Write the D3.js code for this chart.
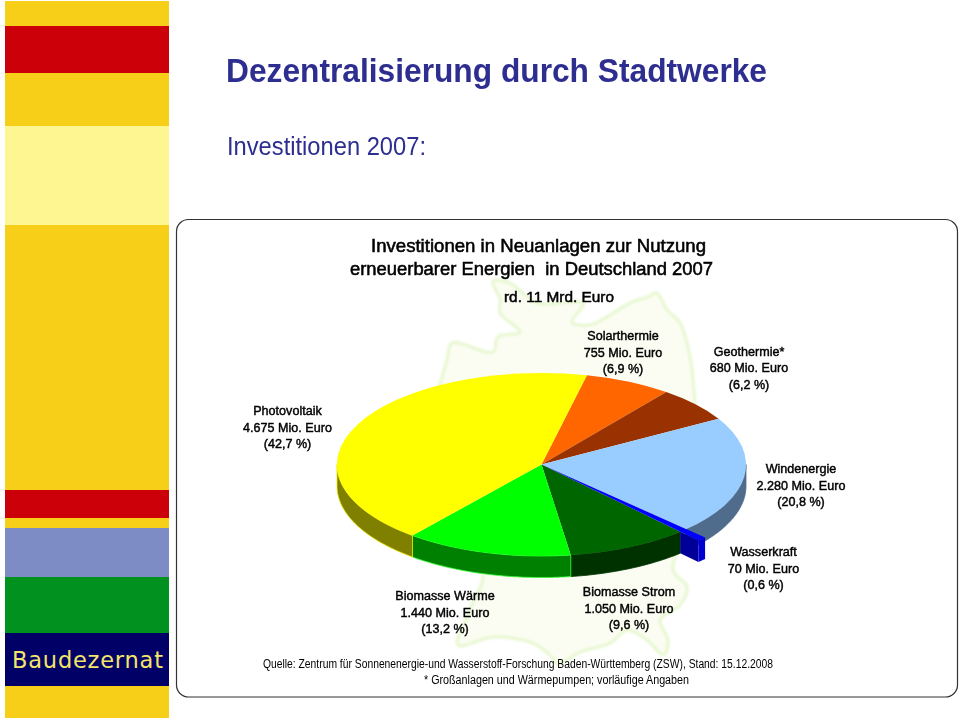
<!DOCTYPE html>
<html><head><meta charset="utf-8">
<script src="https://cdn.jsdelivr.net/npm/d3@7"></script>
<style>html,body{margin:0;padding:0;background:#fff}svg{display:block}text{font-family:"Liberation Sans",Arial,sans-serif}</style>
</head><body><div id="c"></div>
<script>
// ---- data ----
const categories = ["Solarthermie","Geothermie*","Windenergie","Wasserkraft","Biomasse Strom","Biomasse Wärme","Photovoltaik"];
const valuesMio  = [755,680,2280,70,1050,1440,4675];
const percentLabels = ["6,9","6,2","20,8","0,6","9,6","13,2","42,7"];
const topColors  = ["#ff6600","#993300","#99ccff","#0000ff","#006600","#00ff00","#ffff00"];
const wallColors = ["#803300","#4d1900","#4f6c8c","#000099","#003300","#008000","#808000"];
const edgeColors = ["#ff6600","#993300","#4f6c8c","#0000ff","#003300","#33ff33","#e8e800"];
const labelAnchors = [[623,340],[749,355.5],[801,473],[763.5,556],[629,596],[445,600],[287.5,415]];
const germanyOutline = [[23.3,.3],[29.6,.8],[39.6,6],[56.7,6],[52.6,10.9],[59.3,11.7],[65.6,9.6],[74,6],[80.7,4.4],[84,3.4],[87.8,7.8],[92.6,11.2],[96.3,20],[98,31],[100,57],[90,75.3],[95.2,79.7],[92.6,84.4],[85.2,88.3],[88.1,93.5],[86.7,97.4],[80.4,93.5],[73,90.9],[66.7,94.3],[55.6,96.6],[47.4,99.7],[44.4,97.4],[38.1,94.3],[23.3,92.7],[10.4,94.8],[14.8,85.7],[19.6,76.6],[14.8,72.7],[3.7,62.3],[0,36],[3.7,27.3],[6.3,20.8],[8.1,16.4],[23.3,18.7],[25.2,14.8],[33.3,13.5],[26,8.6],[26,5]];
const sidebarBands = [["#f7ce18",1],["#cc0009",26],["#f7ce18",73],["#fdf691",126],["#f7ce18",225],["#cc0009",490],["#f7ce18",518],["#7d8cc4",528],["#00911f",577],["#000066",633],["#f7ce18",686],[null,718]];
const chartTitleLines = ["Investitionen in Neuanlagen zur Nutzung","erneuerbarer Energien  in Deutschland 2007"];

const W=959,H=720;
const svg=d3.select("#c").append("svg").attr("width",W).attr("height",H);
const defs=svg.append("defs");
defs.append("filter").attr("id","soft").append("feGaussianBlur").attr("stdDeviation",.35);
defs.append("filter").attr("id","softer").append("feGaussianBlur").attr("stdDeviation",.9);

// sidebar
svg.append("g").selectAll("rect").data(sidebarBands.slice(0,-1)).join("rect")
  .attr("x",5).attr("width",164)
  .attr("y",d=>d[1]).attr("height",(d,i)=>sidebarBands[i+1][1]-d[1]).attr("fill",d=>d[0]);
svg.append("text").text("Baudezernat").attr("x",12).attr("y",668).attr("fill","#f3e56a")
  .attr("font-size",22.5).style("font-family","'DejaVu Sans'").attr("textLength",151).attr("lengthAdjust","spacing");

// headings
const blue="#2d2e90";
const g0=svg.append("g").attr("filter","url(#soft)");
g0.append("text").text("Dezentralisierung durch Stadtwerke").attr("x",226).attr("y",82).attr("fill",blue)
  .attr("font-size",32.5).attr("font-weight","bold").attr("textLength",541).attr("lengthAdjust","spacingAndGlyphs");
g0.append("text").text("Investitionen 2007:").attr("x",227).attr("y",155).attr("fill",blue)
  .attr("font-size",25).attr("textLength",199).attr("lengthAdjust","spacingAndGlyphs");

// frame
svg.append("rect").attr("x",176.5).attr("y",219.5).attr("width",781).attr("height",477.5).attr("rx",12)
  .attr("fill","#fff").attr("stroke","#333").attr("stroke-width",1.2);

// map backdrop
const mapX=d3.scaleLinear().domain([0,100]).range([430,700]);
const mapY=d3.scaleLinear().domain([0,100]).range([280,665]);
svg.append("path").attr("d",d3.line().x(d=>mapX(d[0])).y(d=>mapY(d[1])).curve(d3.curveCatmullRomClosed)(germanyOutline))
  .attr("fill","#fbfdf3").attr("stroke","#e9f8d4").attr("stroke-width",3.5).attr("filter","url(#softer)");

// pie
const cx=541.5,cy=464.5,rx=204.5,ry=91.5,depth=21.5,reach=1.13;
const startDeg=12.8;
const pie=d3.pie().sort(null).startAngle(startDeg*Math.PI/180).endAngle((startDeg+360)*Math.PI/180);
const arcs=pie(valuesMio);
const sx=d3.scaleLinear().domain([-1,1]).range([cx-rx,cx+rx]);
const sy=d3.scaleLinear().domain([-1,1]).range([cy-ry,cy+ry]);
const px=(a,k=1)=>sx(k*Math.sin(a)), py=(a,k=1)=>sy(-k*Math.cos(a));
const waterIdx=categories.indexOf("Wasserkraft");
const line=d3.line();

function wallPath(a0,a1,k){
  const lo=Math.max(a0,Math.PI/2), hi=Math.min(a1,3*Math.PI/2);
  if(hi<=lo) return null;
  const n=Math.ceil((hi-lo)*60);
  const t=d3.range(n+1).map(i=>lo+(hi-lo)*i/n);
  return line(t.map(a=>[px(a,k),py(a,k)]).concat(t.slice().reverse().map(a=>[px(a,k),py(a,k)+depth])))+"Z";
}
const pg=svg.append("g").attr("filter","url(#soft)");
arcs.forEach((d,i)=>{
  if(i===waterIdx) return;
  const p=wallPath(d.startAngle,d.endAngle,1);
  if(p) pg.append("path").attr("d",p).attr("fill",wallColors[i]).attr("stroke",edgeColors[i]).attr("stroke-width",.8);
});
// top faces
const arcGen=d3.arc().innerRadius(0).outerRadius(1);
const tops=pg.append("g").attr("transform",`translate(${cx},${cy}) scale(${rx},${ry})`);
arcs.forEach((d,i)=>{
  if(i===waterIdx) return;
  tops.append("path").attr("d",arcGen(d)).attr("fill",topColors[i]);
});
// the pulled-out Wasserkraft slice
{
  const d=arcs[waterIdx],a0=d.startAngle,a1=d.endAngle;
  const face=[[px(a1,1),py(a1,1)],[px(a1,reach),py(a1,reach)],[px(a1,reach),py(a1,reach)+depth],[px(a1,1),py(a1,1)+depth]];
  pg.append("path").attr("d",line(face)+"Z").attr("fill","#000099");
  pg.append("path").attr("d",wallPath(a0,a1,reach)).attr("fill","#0000d0");
  tops.append("path").attr("d",d3.arc().innerRadius(0).outerRadius(reach)(d)).attr("fill",topColors[waterIdx]);
}

// labels
const nf=d3.formatLocale({decimal:",",thousands:".",grouping:[3],currency:["","€"]}).format(",");
const lg=svg.append("g").attr("filter","url(#soft)").attr("text-anchor","middle").attr("fill","#000");
categories.forEach((c,i)=>{
  const [x,y]=labelAnchors[i];
  [c,`${nf(valuesMio[i])} Mio. Euro`,`(${percentLabels[i]} %)`].forEach((t,j)=>{
    const el=lg.append("text").text(t).attr("x",x).attr("y",y+j*16.5).attr("font-size",13.2)
      .attr("stroke","#000").attr("stroke-width",.45);
    el.attr("textLength",el.node().getComputedTextLength()*12.6/13.2).attr("lengthAdjust","spacingAndGlyphs");
  });
});
// chart title
const tg=svg.append("g").attr("filter","url(#soft)").attr("text-anchor","middle").attr("fill","#000");
tg.append("text").text(chartTitleLines[0]).attr("x",538.5).attr("y",251.5).attr("font-size",18).attr("stroke","#000").attr("stroke-width",.55).attr("textLength",335).attr("lengthAdjust","spacingAndGlyphs");
tg.append("text").text(chartTitleLines[1]).attr("x",531.5).attr("y",274.5).attr("font-size",18).attr("stroke","#000").attr("stroke-width",.55).attr("textLength",363).attr("lengthAdjust","spacingAndGlyphs").style("white-space","pre");
tg.append("text").text("rd. 11 Mrd. Euro").attr("x",559).attr("y",301.5).attr("font-size",15.2).attr("stroke","#000").attr("stroke-width",.5).attr("textLength",110).attr("lengthAdjust","spacingAndGlyphs");
// source
tg.append("text").text("Quelle: Zentrum für Sonnenenergie-und Wasserstoff-Forschung Baden-Württemberg (ZSW), Stand: 15.12.2008").attr("x",518).attr("y",668).attr("font-size",12.3).attr("textLength",510).attr("lengthAdjust","spacingAndGlyphs");
tg.append("text").text("* Großanlagen und Wärmepumpen; vorläufige Angaben").attr("x",556.5).attr("y",684).attr("font-size",12.3).attr("textLength",265).attr("lengthAdjust","spacingAndGlyphs");
</script></body></html>
